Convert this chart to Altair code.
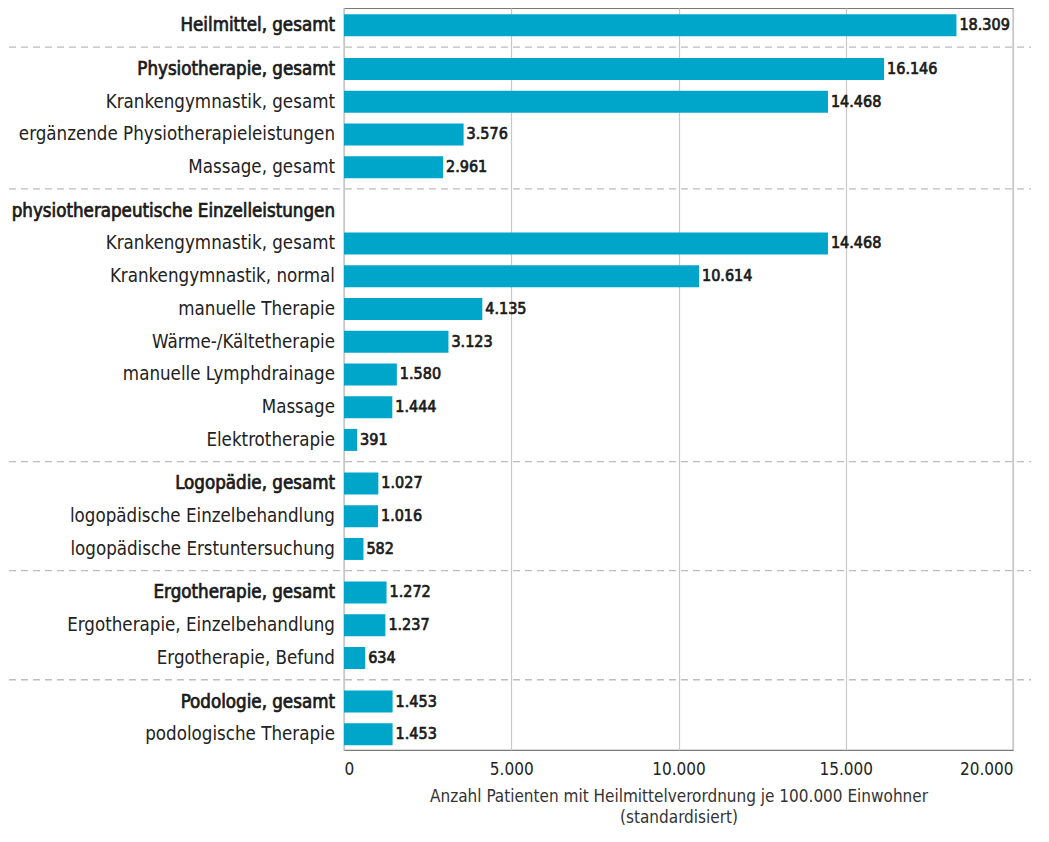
import altair as alt
import pandas as pd

labels = [
    "Heilmittel, gesamt",
    "Physiotherapie, gesamt",
    "Krankengymnastik, gesamt",
    "ergänzende Physiotherapieleistungen",
    "Massage, gesamt",
    "physiotherapeutische Einzelleistungen",
    "Krankengymnastik, gesamt ",
    "Krankengymnastik, normal",
    "manuelle Therapie",
    "Wärme-/Kältetherapie",
    "manuelle Lymphdrainage",
    "Massage",
    "Elektrotherapie",
    "Logopädie, gesamt",
    "logopädische Einzelbehandlung",
    "logopädische Erstuntersuchung",
    "Ergotherapie, gesamt",
    "Ergotherapie, Einzelbehandlung",
    "Ergotherapie, Befund",
    "Podologie, gesamt",
    "podologische Therapie",
]
values = [18309, 16146, 14468, 3576, 2961, None, 14468, 10614, 4135, 3123,
          1580, 1444, 391, 1027, 1016, 582, 1272, 1237, 634, 1453, 1453]
bold = [1, 1, 0, 0, 0, 1, 0, 0, 0, 0, 0, 0, 0, 1, 0, 0, 1, 0, 0, 1, 0]
groups = [0, 1, 1, 1, 1, 2, 2, 2, 2, 2, 2, 2, 2, 3, 3, 3, 4, 4, 4, 5, 5]
x_ticks = [0, 5000, 10000, 15000, 20000]
x_title = ["Anzahl Patienten mit Heilmittelverordnung je 100.000 Einwohner",
           "(standardisiert)"]

GAP = 0.33
pos = [i + GAP * g for i, g in enumerate(groups)]
df = pd.DataFrame({"label": labels, "value": values, "bold": bold, "pos": pos})
df["value_text"] = ["" if v is None else f"{v:,}".replace(",", ".") for v in values]
seps = [(pos[i] + pos[i + 1]) / 2 for i in range(len(groups) - 1)
        if groups[i] != groups[i + 1]]
sep_df = pd.DataFrame({"pos": seps})

FONT = "DejaVu Sans Condensed, Liberation Sans Narrow, Roboto, sans-serif"
BAR = "#00a6c9"

y_scale = alt.Scale(domain=[-0.53, pos[-1] + 0.48], reverse=True, zero=False,
                    nice=False, padding=0)
y_enc = alt.Y("pos:Q", scale=y_scale, axis=None)
x_enc = alt.X(
    "value:Q",
    scale=alt.Scale(domain=[0, 20000], nice=False),
    axis=alt.Axis(
        values=x_ticks,
        labelExpr="replace(format(datum.value, ','), ',', '.')",
        title=x_title,
        ticks=False,
        domain=False,
        grid=True,
        gridColor="#c8c8c8",
        gridWidth=1.2,
        labelFont=FONT,
        labelFontSize=17,
        labelColor="#222222",
        labelPadding=11,
        titleFont=FONT,
        titleFontSize=17,
        titleFontWeight="normal",
        titleColor="#333333",
        titlePadding=11,
        titleLineHeight=21,
    ),
)

base = alt.Chart(df)
valid = "isValid(datum.value)"

bars = base.transform_filter(valid).mark_bar(
    orient="horizontal", size=22, color=BAR
).encode(x=x_enc, y=y_enc)

vals = base.transform_filter(valid).mark_text(
    align="left", baseline="middle", dx=3, fontWeight="normal",
    fontSize=16, font=FONT, color="#1a1a1a", stroke="#1a1a1a", strokeWidth=0.7
).encode(x="value:Q", y=y_enc, text="value_text:N")

lab_bold = base.transform_filter("datum.bold == 1").mark_text(
    align="right", baseline="middle", fontWeight="normal",
    fontSize=18.6, font=FONT, color="#1a1a1a", stroke="#1a1a1a", strokeWidth=0.7
).encode(x=alt.value(-9), y=y_enc, text="label:N")

lab_norm = base.transform_filter("datum.bold == 0").mark_text(
    align="right", baseline="middle", fontWeight="normal",
    fontSize=18.6, font=FONT, color="#222222"
).encode(x=alt.value(-9), y=y_enc, text="label:N")

rules = alt.Chart(sep_df).mark_rule(
    strokeDash=[7, 5], color="#bdbdbd", strokeWidth=1.3
).encode(x=alt.value(-335), x2=alt.value(687), y=y_enc)

chart = alt.layer(rules, bars, vals, lab_bold, lab_norm).properties(
    width=669, height=742,
    padding={"left": 0, "top": 0, "right": 0, "bottom": 0},
).configure_view(stroke="#7a7a7a", strokeWidth=1.2)

chart.save("out.html", embed_options={"renderer": "svg", "actions": False})
